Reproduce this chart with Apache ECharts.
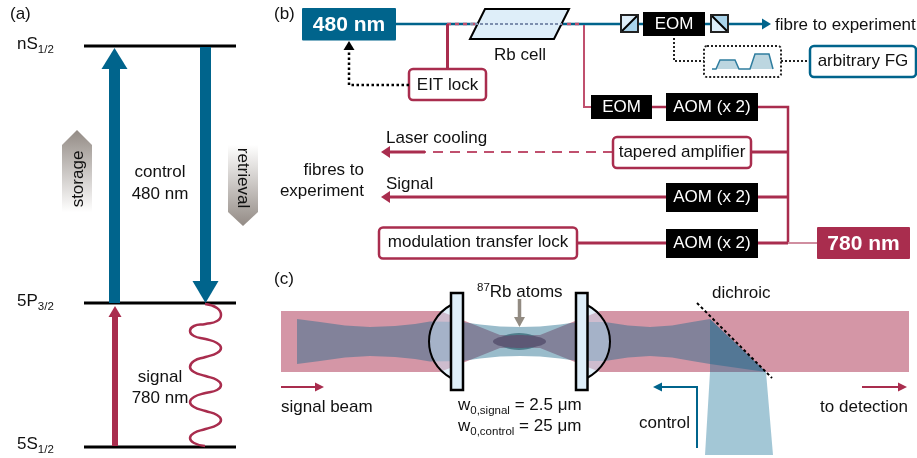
<!DOCTYPE html>
<html>
<head>
<meta charset="utf-8">
<script src="https://cdn.jsdelivr.net/npm/echarts@6/dist/echarts.min.js"></script>
<style>
  html, body { margin: 0; background: #fff; }
  #main { width: 917px; height: 458px; }
</style>
</head>
<body>
<div id="main"></div>
<script>
// every point below is [x, y], the hidden axes run 0-917 and 458-0
const levelLines = [[84, 46, 236], [84, 303, 236], [84, 447, 236]];
const levelNames = [['nS', '1/2', 46], ['5P', '3/2', 303], ['5S', '1/2', 446]];
const signalWave = [
  [205, 304], [217, 308], [221, 315], [217, 321], [205.5, 324], [194, 326], [190, 331], [194, 336], [205.5, 339], [217, 343], [221, 348], [217, 353], [205.5, 357],
  [194, 361], [190, 367], [194, 372], [205.5, 376], [217, 380], [221, 385], [217, 390], [205.5, 393], [194, 397], [190, 402], [194, 407], [205.5, 411], [217, 415],
  [221, 420], [217, 425], [205.5, 429], [194, 433], [190, 438], [194, 443], [205, 446]
];
const storageArrow = [[77, 130], [92, 145], [92, 212], [62, 212], [62, 145]];
const retrievalArrow = [[228, 145], [258, 145], [258, 212], [243, 226], [228, 212]];
const rbCell = [[485, 9], [569, 9], [554, 39], [470, 39]];
const pulseOne = [[716, 69], [720, 60], [735, 60], [739, 69]];
const pulseTwo = [[750, 69], [755, 54], [769, 54], [773, 69]];
const signalBeam = [[281, 311], [440, 311], [500, 335], [540, 335], [600, 311], [909, 311], [909, 372], [600, 372], [540, 348], [500, 348], [440, 372], [281, 372]];
const controlBeam = [
  [297, 319], [320, 322], [345, 325.5], [370, 327], [395, 326], [415, 324], [430, 321.5], [462, 322], [480, 324.5], [500, 326.5], [520, 327], [540, 326.5], [560, 324.5], [578, 322],
  [605, 322], [628, 325.5], [650, 327], [672, 325.5], [692, 322], [710, 319], [766, 372],
  [710, 364], [692, 361], [672, 357.5], [650, 356], [628, 357.5], [605, 361], [578, 361], [560, 358.5], [540, 356.5], [520, 356], [500, 356.5], [480, 358.5], [462, 361],
  [430, 361.5], [415, 359], [395, 357], [370, 356], [345, 357.5], [320, 361], [297, 364]
];
const reflectedBeam = [[710, 319], [766, 372], [773, 455], [705, 455], [710, 372]];

const blue = '#00648c';
const red = '#a92d4e';
const font = '"Liberation Sans", Arial, sans-serif';
const items = [];

function line(pts, color, width, dash) {
  items.push({ kind: 'polyline', pts, stroke: color, lineWidth: width, dash });
}
function poly(pts, fill, stroke, width) {
  items.push({ kind: 'polygon', pts, fill, stroke, lineWidth: width });
}
function box(x, y, w, h, fill, stroke, width, r, dash) {
  items.push({ kind: 'rect', x, y, w, h, fill, stroke, lineWidth: width, r, dash });
}
function label(x, y, text, o) {
  items.push(Object.assign({ kind: 'text', x, y, text }, o || {}));
}
// arrow head: tip, direction dx/dy, length, half width
function head(tip, dx, dy, len, half, color) {
  const bx = tip[0] - dx * len, by = tip[1] - dy * len;
  poly([tip, [bx - dy * half, by - dx * half], [bx + dy * half, by + dx * half]], color);
}
function lens(xFlat, xBulge, color) {
  items.push({ kind: 'lens', xFlat, xBulge, fill: color, stroke: '#000', lineWidth: 2 });
}

// (a) level scheme
levelLines.forEach(l => line([[l[0], l[1]], [l[2], l[1]]], '#000', 3));
items.push({ kind: 'polyline', pts: signalWave, stroke: red, lineWidth: 2.5, smooth: 0.5 });
levelNames.forEach(n => label(17, n[2], `{b|${n[0]}}{s|${n[1]}}`, { rich: true }));
line([[114.5, 303], [114.5, 68]], blue, 11);
head([114.5, 48], 0, -1, 21, 13, blue);
line([[205.5, 47], [205.5, 282]], blue, 11);
head([205.5, 303], 0, 1, 22, 13, blue);
line([[115, 446], [115, 316]], red, 6);
head([115, 306], 0, -1, 11, 6.5, red);
items.push({ kind: 'polygon', pts: storageArrow, grad: ['#938b85', '#ffffff'] });
items.push({ kind: 'polygon', pts: retrievalArrow, grad: ['#ffffff', '#938b85'] });
label(78, 179, 'storage', { align: 'center', rotate: Math.PI / 2 });
label(243, 178, 'retrieval', { align: 'center', rotate: -Math.PI / 2 });
label(160, 172, 'control', { align: 'center' });
label(160, 194, '480 nm', { align: 'center' });
label(160, 377, 'signal', { align: 'center' });
label(160, 398, '780 nm', { align: 'center' });

// (b) laser setup
line([[396, 24], [764, 24]], blue, 2.5);
head([771, 24], 1, 0, 9, 5.5, blue);
line([[447, 24], [583, 24]], '#c0506e', 2.5, [4, 4]);
line([[447.5, 24], [447.5, 69]], red, 3);
line([[584, 25], [584, 107], [591, 107]], '#c0506e', 2);
poly(rbCell, '#deeef9', '#000', 2);
line([[470, 24], [562, 24]], '#7d8fae', 2, [3, 2]);
box(302, 8, 94, 32.5, blue, null, 0, 1);
label(349, 25, '480 nm', { align: 'center', color: '#fff', size: 21, bold: true });
label(520, 55, 'Rb cell', { align: 'center' });
box(409, 69, 77, 31, '#fff', red, 2.5, 4);
label(447.5, 85, 'EIT lock', { align: 'center' });
line([[409, 85], [349, 85], [349, 50]], '#000', 2.5, [2.5, 2.5]);
head([349, 41], 0, -1, 9, 5.5, '#000');

[[621, 1], [711, 0]].forEach(c => {
  box(c[0], 15, 17, 17, '#deeef9', '#222', 2, 0);
  if (c[1]) {
    poly([[c[0], 32], [c[0] + 17, 15], [c[0] + 17, 32]], '#a9d3ea');
    line([[c[0], 32], [c[0] + 17, 15]], '#000', 2);
  } else {
    poly([[c[0], 15], [c[0] + 17, 15], [c[0] + 17, 32]], '#a9d3ea');
    line([[c[0], 15], [c[0] + 17, 32]], '#000', 2);
  }
  box(c[0], 15, 17, 17, null, '#222', 2, 0);
});
box(643, 12, 62, 24, '#000', null, 0, 0);
label(674, 24.5, 'EOM', { align: 'center', color: '#fff' });
label(775, 25, 'fibre to experiment');

line([[674, 38], [674, 61], [704, 61]], '#222', 2, [2, 2]);
box(704, 46, 77, 31, null, '#222', 2, 3, [2, 2]);
poly(pulseOne, '#bcd6e0');
poly(pulseTwo, '#bcd6e0');
line([[712, 69]].concat(pulseOne, pulseTwo), '#2f7d9f', 1.5);
line([[781, 61], [810, 61]], '#222', 2, [2, 2]);
box(810, 46, 106, 31, '#fff', blue, 2.5, 4);
label(863, 61, 'arbitrary FG', { align: 'center' });

line([[652, 107], [666, 107]], red, 2.5);
line([[758, 107], [788, 107], [788, 243]], red, 2.5);
line([[751, 152], [788, 152]], red, 3);
line([[758, 197], [788, 197]], red, 3);
line([[758, 243], [788, 243]], red, 3);
line([[788, 243], [817, 243]], '#d08ea0', 2);
box(591, 95, 61, 24, '#000', null, 0, 0);
label(621.5, 107, 'EOM', { align: 'center', color: '#fff' });
[[93, 107], [183, 197], [229, 243]].forEach(a => {
  box(666, a[0], 92, a[0] === 93 ? 28 : 29, '#000', null, 0, 0);
  label(712, a[1], 'AOM (x 2)', { align: 'center', color: '#fff' });
});
line([[613, 152], [425, 152]], '#c0506e', 2, [10, 7]);
line([[425, 152], [389, 152]], red, 3);
head([381, 152], -1, 0, 9, 6, red);
box(613, 137, 138, 31, '#fff', red, 2.5, 4);
label(682, 152, 'tapered amplifier', { align: 'center' });
label(386, 138, 'Laser cooling');
line([[666, 197], [389, 197]], red, 3);
head([381, 197], -1, 0, 9, 6, red);
label(386, 184, 'Signal');
label(364, 170, 'fibres to', { align: 'right' });
label(364, 191, 'experiment', { align: 'right' });
line([[577, 243], [666, 243]], red, 3);
box(379, 227.5, 198, 31, '#fff', red, 2.5, 4);
label(478, 242, 'modulation transfer lock', { align: 'center' });
box(817, 227, 93, 32, red, null, 0, 1);
label(863.5, 244, '780 nm', { align: 'center', color: '#fff', size: 21, bold: true });

// (c) cavity
poly(signalBeam, 'rgba(169,45,78,0.5)');
poly(controlBeam, 'rgba(30,106,140,0.45)');
poly(reflectedBeam, 'rgba(0,100,140,0.36)');
items.push({ kind: 'ellipse', cx: 519, cy: 341.5, rx: 20, ry: 8.5, fill: '#4f7e8c' });
items.push({ kind: 'ellipse', cx: 519.5, cy: 341.5, rx: 26.5, ry: 6.5, fill: '#5d5875' });
lens(451, 429, 'rgba(200,226,245,0.5)');
lens(587, 610, 'rgba(200,226,245,0.5)');
box(451, 293, 12, 97, '#deeef9', '#000', 2.5, 0);
box(576, 293, 11.5, 97, '#deeef9', '#000', 2.5, 0);
line([[697, 303], [772, 378]], '#000', 2, [3, 2.5]);

line([[519.5, 299], [519.5, 319]], '#928b82', 3.5);
head([519.5, 327], 0, 1, 10, 5.5, '#928b82');
label(477, 291, '{u|87}{a|Rb atoms}', { rich: true });
line([[281, 387], [316, 387]], red, 2);
head([324, 387], 1, 0, 9, 4.5, red);
label(281, 407, 'signal beam');
label(458, 407, '{b|w}{s|0,signal}{b| = 2.5 μm}', { rich: true });
label(458, 428, '{b|w}{s|0,control}{b| = 25 μm}', { rich: true });
line([[862, 387], [899, 387]], red, 2);
head([907, 387], 1, 0, 9, 4.5, red);
label(908, 407, 'to detection', { align: 'right' });
line([[697, 448], [697, 387], [662, 387]], blue, 2);
head([653, 387], -1, 0, 9, 4.5, blue);
label(690, 423, 'control', { align: 'right' });
label(712, 293, 'dichroic');

label(10, 14, '(a)');
label(274, 14, '(b)');
label(274, 279, '(c)');

const richStyles = {
  b: { fontSize: 17, fontFamily: font, fill: '#111', padding: [0, 0, 3, 0], verticalAlign: 'bottom' },
  a: { fontSize: 17, fontFamily: font, fill: '#111', verticalAlign: 'bottom' },
  s: { fontSize: 11.5, fontFamily: font, fill: '#111', verticalAlign: 'bottom' },
  u: { fontSize: 11.5, fontFamily: font, fill: '#111', padding: [0, 0, 7, 0], verticalAlign: 'bottom' }
};

function renderItem(params, api) {
  const it = items[api.value(0)];
  const p = pt => api.coord(pt);
  const style = {
    fill: it.fill || 'none',
    stroke: it.stroke || 'none',
    lineWidth: it.lineWidth || 0,
    lineDash: it.dash || null
  };
  if (it.kind === 'polyline') {
    style.fill = 'none';
    return { type: 'polyline', shape: { points: it.pts.map(p), smooth: it.smooth || 0 }, style };
  }
  if (it.kind === 'polygon') {
    if (it.grad) {
      style.fill = new echarts.graphic.LinearGradient(0, 0, 0, 1, [
        { offset: 0, color: it.grad[0] }, { offset: 1, color: it.grad[1] }
      ]);
    }
    return { type: 'polygon', shape: { points: it.pts.map(p) }, style };
  }
  if (it.kind === 'rect') {
    const c = p([it.x, it.y]);
    return { type: 'rect', shape: { x: c[0], y: c[1], width: it.w, height: it.h, r: it.r }, style };
  }
  if (it.kind === 'ellipse') {
    const c = p([it.cx, it.cy]);
    return { type: 'ellipse', shape: { cx: c[0], cy: c[1], rx: it.rx, ry: it.ry }, style };
  }
  if (it.kind === 'lens') {
    const d = (it.xBulge - it.xFlat) / 0.75;
    const a = p([it.xFlat, 305]), b = p([it.xFlat, 378]);
    const c1 = p([it.xFlat + d, 321]), c2 = p([it.xFlat + d, 362]);
    return {
      type: 'bezierCurve',
      shape: { x1: a[0], y1: a[1], x2: b[0], y2: b[1], cpx1: c1[0], cpy1: c1[1], cpx2: c2[0], cpy2: c2[1] },
      style
    };
  }
  // text
  const c = p([it.x, it.y]);
  return {
    type: 'text',
    x: c[0],
    y: c[1],
    rotation: it.rotate || 0,
    style: {
      text: it.text,
      fill: it.color || '#111',
      font: `${it.bold ? 'bold ' : ''}${it.size || 17}px ${font}`,
      align: it.align || 'left',
      verticalAlign: 'middle',
      rich: it.rich ? richStyles : null
    }
  };
}

const chart = echarts.init(document.getElementById('main'));
chart.setOption({
  animation: false,
  backgroundColor: '#fff',
  grid: { left: 0, right: 0, top: 0, bottom: 0 },
  xAxis: { type: 'value', min: 0, max: 917, show: false },
  yAxis: { type: 'value', min: 0, max: 458, inverse: true, show: false },
  series: [{
    type: 'custom',
    coordinateSystem: 'cartesian2d',
    clip: false,
    silent: true,
    encode: { x: 0, y: 1 },
    renderItem,
    data: items.map((_, i) => [i, 0])
  }]
});
</script>
</body>
</html>
